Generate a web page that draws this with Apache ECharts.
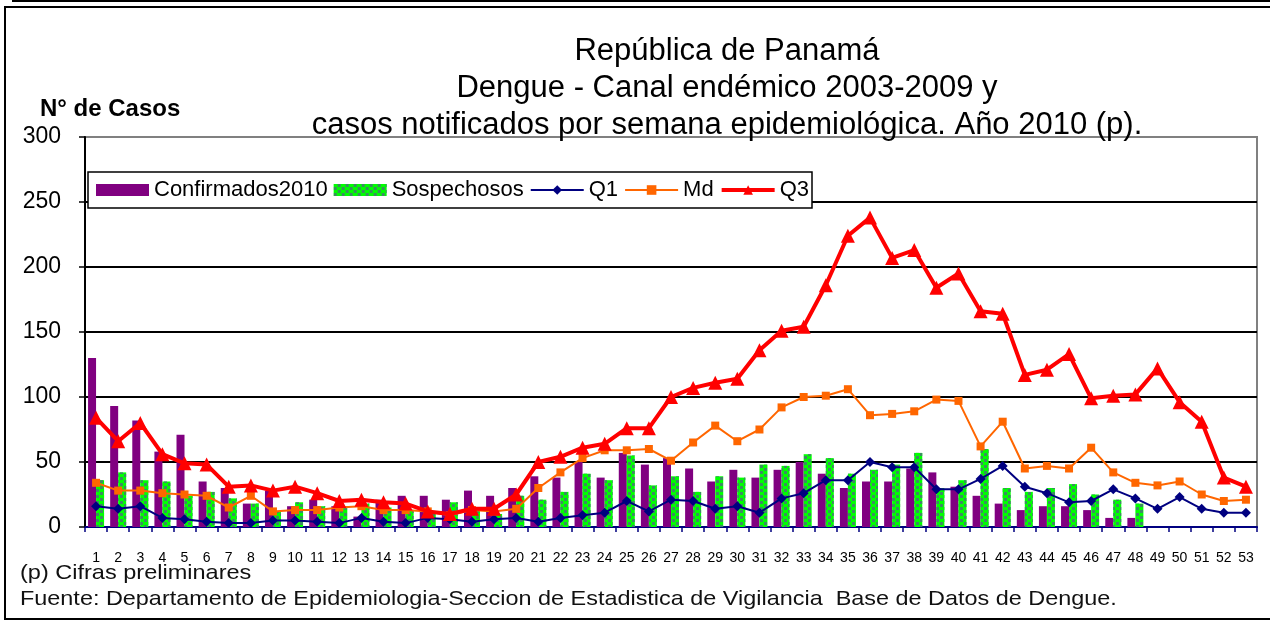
<!DOCTYPE html>
<html>
<head>
<meta charset="utf-8">
<script src="https://cdn.jsdelivr.net/npm/echarts@6/dist/echarts.min.js"></script>
<style>
html,body{margin:0;padding:0;background:#fff;}
#chart{width:1270px;height:622px;}
</style>
</head>
<body>
<div id="chart"></div>
<script>
// ---- data ----
const weeks = ['1','2','3','4','5','6','7','8','9','10','11','12','13','14','15','16','17','18','19','20','21','22','23','24','25','26','27','28','29','30','31','32','33','34','35','36','37','38','39','40','41','42','43','44','45','46','47','48','49','50','51','52','53'];
const confirmados2010 = [130,93,82,58,71,35,30,18,28,16,21,16,8,21,24,24,21,28,24,30,39,38,50,38,57,48,53,45,35,44,38,44,50,41,30,35,35,45,42,31,24,18,13,16,16,13,7,7];
const sospechosos = [36,42,36,35,24,27,22,18,12,19,16,16,18,15,13,10,19,13,10,24,21,27,41,36,55,32,39,27,39,38,48,47,56,53,41,44,48,57,30,36,60,30,27,30,33,25,21,18];
const q1 = [16,14,16,7,6,4,3,3,5,5,4,3,7,4,3,7,6,4,6,7,4,7,9,11,20,12,21,20,14,16,11,22,26,36,36,50,46,46,29,29,37,47,31,26,19,20,29,22,14,23,14,11,11];
const md = [34,28,28,26,25,24,15,24,12,13,13,15,16,13,13,12,9,13,12,14,30,42,53,59,59,60,51,65,78,66,75,92,100,101,106,86,87,89,98,97,62,81,45,47,45,61,42,34,32,35,25,20,21];
const q3 = [84,66,80,56,49,48,31,32,28,31,26,20,21,19,18,12,10,14,14,25,50,54,61,64,76,76,100,107,111,114,136,151,154,186,224,238,207,213,184,195,166,164,117,121,133,99,101,102,122,96,81,38,31];
const titleLines = ['República de Panamá','Dengue - Canal endémico 2003-2009 y','casos notificados por semana epidemiológica. Año 2010 (p).'];
const yName = 'N° de Casos';
const note1 = '(p) Cifras preliminares';
const note2 = 'Fuente: Departamento de Epidemiologia-Seccion de Estadistica de Vigilancia  Base de Datos de Dengue.';

const FONT = 'Arial, "Liberation Sans", sans-serif';
const chart = echarts.init(document.getElementById('chart'), null, {renderer:'canvas'});

const option = {
  backgroundColor:'#fff',
  animation:false,
  title:{
    text: titleLines.join('\n'),
    left: 722, top: 28, textAlign:'center',
    textStyle:{fontFamily:FONT, fontSize:31, fontWeight:'normal', color:'#000', lineHeight:37}
  },
  legend:{
    left: 88, top: 172,
    padding:[7,3,7,8],
    itemWidth:53, itemHeight:12, itemGap:6,
    backgroundColor:'#fff', borderColor:'#000', borderWidth:1.5,
    textStyle:{fontFamily:FONT, fontSize:22, color:'#000'},
    data:[
      {name:'Confirmados2010', icon:'rect'},
      {name:'Sospechosos', icon:'rect'},
      {name:'Q1', lineStyle:{width:2}},
      {name:'Md', lineStyle:{width:2}},
      {name:'Q3', lineStyle:{width:4}}
    ]
  },
  grid:{left:85, right:13, top:137, bottom:95, show:true, borderColor:'#808080', borderWidth:2},
  xAxis:{
    type:'category', data:weeks,
    axisLine:{lineStyle:{color:'#000080', width:2}},
    axisTick:{show:true, alignWithLabel:false, length:5, lineStyle:{color:'#000080', width:1.5}},
    axisLabel:{interval:0, margin:24, fontFamily:FONT, fontSize:14, color:'#000'}
  },
  yAxis:{
    type:'value', min:0, max:300, interval:50,
    axisLine:{show:true, lineStyle:{color:'#000', width:2}},
    axisTick:{show:true, length:6, lineStyle:{color:'#000', width:1.5}},
    axisLabel:{margin:24, fontFamily:FONT, fontSize:23, color:'#000'},
    splitLine:{show:true, lineStyle:{color:['#000','#000','#000','#000','#000','#000','#808080'], width:2}}
  },
  series:[
    {name:'Confirmados2010', type:'bar', data:confirmados2010, barWidth:8, barGap:'0%',
     itemStyle:{color:'#800080'}, z:2},
    {name:'Sospechosos', type:'bar', data:sospechosos, barWidth:8,
     itemStyle:{color:'#00FF00', decal:{symbol:'rect', symbolSize:1, color:'#3C8C62',
        dashArrayX:[[3,5],[0,4,3,1]], dashArrayY:[3,0], rotation:0}}, z:2},
    {name:'Q1', type:'line', data:q1, symbol:'diamond', symbolSize:10,
     lineStyle:{color:'#000080', width:2}, itemStyle:{color:'#000080'}, z:4},
    {name:'Md', type:'line', data:md, symbol:'rect', symbolSize:8,
     lineStyle:{color:'#FF6600', width:2}, itemStyle:{color:'#FF6600'}, z:4},
    {name:'Q3', type:'line', data:q3, symbol:'triangle', symbolSize:14,
     lineStyle:{color:'#FF0000', width:4}, itemStyle:{color:'#FF0000'}, z:5}
  ],
  graphic:[
    {type:'line', shape:{x1:12, y1:1, x2:1270, y2:1}, style:{stroke:'#000', lineWidth:2}, silent:true},
    {type:'rect', shape:{x:5, y:7, width:1280, height:612}, style:{fill:null, stroke:'#000', lineWidth:2}, silent:true},
    {type:'text', left:40, top:97, style:{text:yName, font:'bold 24px ' + FONT, fill:'#000'}},
    {type:'text', x:20, y:563, scaleX:1.12, style:{text:note1, font:'21px ' + FONT, fill:'#111'}},
    {type:'text', x:20, y:589, scaleX:1.115, style:{text:note2, font:'21px ' + FONT, fill:'#111'}}
  ]
};
chart.setOption(option);
</script>
</body>
</html>
